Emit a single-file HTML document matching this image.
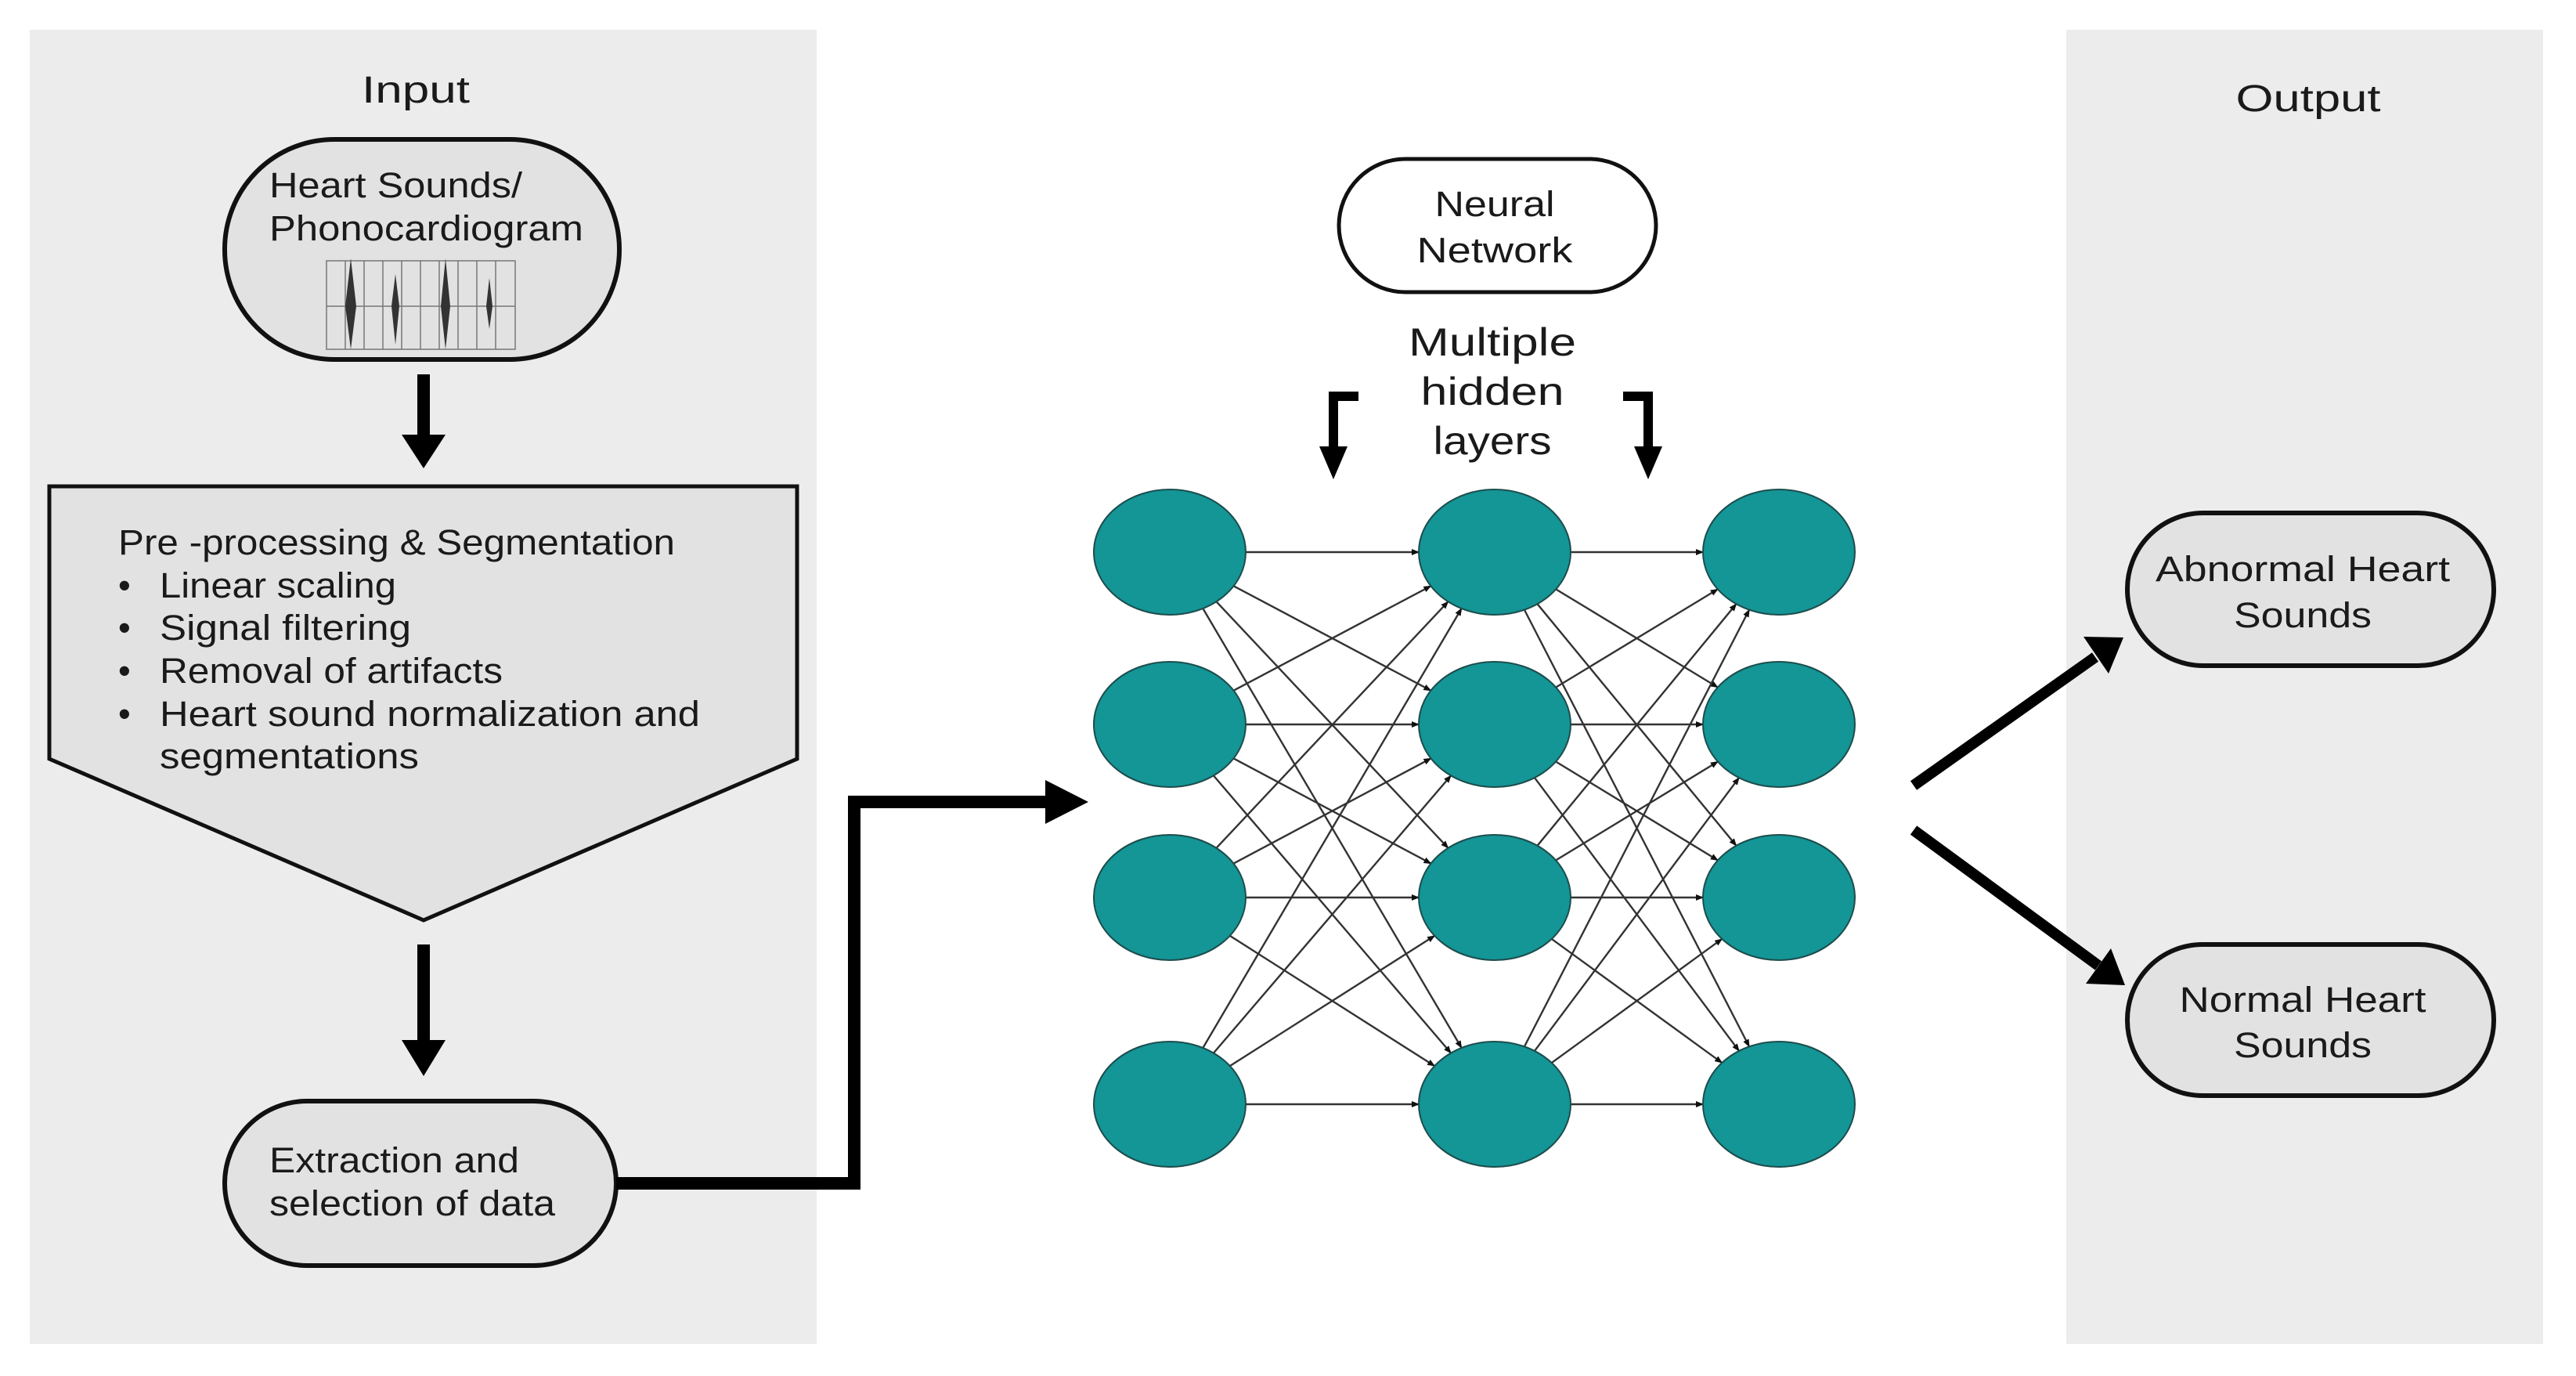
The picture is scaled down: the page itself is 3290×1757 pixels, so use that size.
<!DOCTYPE html>
<html><head><meta charset="utf-8"><style>
html,body{margin:0;padding:0;background:#fff}
svg{display:block}
text{font-family:"Liberation Sans",sans-serif;fill:#1a1a1a}
</style></head><body>
<svg width="3290" height="1757" viewBox="0 0 3290 1757" xmlns="http://www.w3.org/2000/svg">
<defs>
<marker id="a" markerWidth="10" markerHeight="8" refX="9" refY="4" orient="auto" markerUnits="userSpaceOnUse"><path d="M0,0 L10,4 L0,8 Z" fill="#111"/></marker>
</defs>
<rect x="38" y="38" width="1005" height="1678" fill="#ececec"/>
<rect x="2639" y="38" width="609" height="1678" fill="#ececec"/>

<text x="531" y="131" font-size="48" text-anchor="middle" textLength="138" lengthAdjust="spacingAndGlyphs">Input</text>
<rect x="287" y="178" width="504" height="281" rx="140" fill="#e2e2e2" stroke="#111" stroke-width="6"/>
<text x="344" y="252" font-size="45" textLength="323" lengthAdjust="spacingAndGlyphs">Heart Sounds/</text>
<text x="344" y="307" font-size="45" textLength="401" lengthAdjust="spacingAndGlyphs">Phonocardiogram</text>
<g stroke="#777" stroke-width="1.5" fill="none">
<rect x="417" y="333" width="241" height="113"/>
<line x1="417" y1="391" x2="658" y2="391"/>
<line x1="441" y1="333" x2="441" y2="446"/><line x1="465" y1="333" x2="465" y2="446"/><line x1="489" y1="333" x2="489" y2="446"/><line x1="513" y1="333" x2="513" y2="446"/><line x1="537" y1="333" x2="537" y2="446"/><line x1="561" y1="333" x2="561" y2="446"/><line x1="585" y1="333" x2="585" y2="446"/><line x1="609" y1="333" x2="609" y2="446"/><line x1="633" y1="333" x2="633" y2="446"/>
</g>
<g fill="#333">
<path d="M448,330 L455,391 L448,446 L441,391 Z"/>
<path d="M505,350 L510,391 L505,440 L500,391 Z"/>
<path d="M569,330 L575,391 L569,446 L563,391 Z"/>
<path d="M625,355 L629,391 L625,420 L621,391 Z"/>
</g>

<rect x="533" y="478" width="16" height="80" fill="#000"/>
<path d="M513,555 L569,555 L541,598 Z" fill="#000"/>

<path d="M63,621 L1018,621 L1018,969 L541,1175 L63,969 Z" fill="#e2e2e2" stroke="#111" stroke-width="5"/>
<g font-size="45">
<text x="151" y="708" textLength="711" lengthAdjust="spacingAndGlyphs">Pre -processing &amp; Segmentation</text>
<text x="151" y="763">•</text><text x="204" y="763" textLength="302" lengthAdjust="spacingAndGlyphs">Linear scaling</text>
<text x="151" y="817">•</text><text x="204" y="817" textLength="321" lengthAdjust="spacingAndGlyphs">Signal filtering</text>
<text x="151" y="872">•</text><text x="204" y="872" textLength="438" lengthAdjust="spacingAndGlyphs">Removal of artifacts</text>
<text x="151" y="927">•</text><text x="204" y="927" textLength="690" lengthAdjust="spacingAndGlyphs">Heart sound normalization and</text>
<text x="204" y="981" textLength="331" lengthAdjust="spacingAndGlyphs">segmentations</text>
</g>

<rect x="533" y="1206" width="16" height="125" fill="#000"/>
<path d="M513,1328 L569,1328 L541,1374 Z" fill="#000"/>

<rect x="287" y="1406" width="500" height="210" rx="105" fill="#e2e2e2" stroke="#111" stroke-width="6"/>
<text x="344" y="1497" font-size="45" textLength="319" lengthAdjust="spacingAndGlyphs">Extraction and</text>
<text x="344" y="1552" font-size="45" textLength="365" lengthAdjust="spacingAndGlyphs">selection of data</text>

<path d="M787,1511 L1091,1511 L1091,1024 L1340,1024" fill="none" stroke="#000" stroke-width="16"/>
<path d="M1335,996 L1390,1024 L1335,1052 Z" fill="#000"/>

<rect x="1710" y="203" width="405" height="170" rx="85" fill="#fff" stroke="#111" stroke-width="5"/>
<text x="1909" y="276" font-size="45" text-anchor="middle" textLength="153" lengthAdjust="spacingAndGlyphs">Neural</text>
<text x="1909" y="335" font-size="45" text-anchor="middle" textLength="199" lengthAdjust="spacingAndGlyphs">Network</text>
<text x="1906" y="454" font-size="50" text-anchor="middle" textLength="214" lengthAdjust="spacingAndGlyphs">Multiple</text>
<text x="1906" y="517" font-size="50" text-anchor="middle" textLength="183" lengthAdjust="spacingAndGlyphs">hidden</text>
<text x="1906" y="580" font-size="50" text-anchor="middle" textLength="151" lengthAdjust="spacingAndGlyphs">layers</text>
<path d="M1735,506 L1703,506 L1703,575" fill="none" stroke="#000" stroke-width="12"/>
<path d="M1685,570 L1721,570 L1703,612 Z" fill="#000"/>
<path d="M2073,506 L2105,506 L2105,575" fill="none" stroke="#000" stroke-width="12"/>
<path d="M2087,570 L2123,570 L2105,612 Z" fill="#000"/>

<g id="edges" stroke="#333" stroke-width="2.4" marker-end="url(#a)"></g>
<g id="nodes" fill="#149596" stroke="#1d4d4d" stroke-width="2"></g>

<text x="2948" y="142" font-size="48" text-anchor="middle" textLength="185" lengthAdjust="spacingAndGlyphs">Output</text>
<rect x="2717" y="655" width="468" height="195" rx="97" fill="#e2e2e2" stroke="#111" stroke-width="6"/>
<text x="2941" y="742" font-size="45" text-anchor="middle" textLength="376" lengthAdjust="spacingAndGlyphs">Abnormal Heart</text>
<text x="2941" y="801" font-size="45" text-anchor="middle" textLength="176" lengthAdjust="spacingAndGlyphs">Sounds</text>
<rect x="2717" y="1206" width="468" height="193" rx="96" fill="#e2e2e2" stroke="#111" stroke-width="6"/>
<text x="2941" y="1292" font-size="45" text-anchor="middle" textLength="315" lengthAdjust="spacingAndGlyphs">Normal Heart</text>
<text x="2941" y="1350" font-size="45" text-anchor="middle" textLength="176" lengthAdjust="spacingAndGlyphs">Sounds</text>

<line x1="2444" y1="1003" x2="2676" y2="839" stroke="#000" stroke-width="14"/>
<path d="M2661,813 L2712,814 L2693,860 Z" fill="#000"/>
<line x1="2444" y1="1060" x2="2680" y2="1233" stroke="#000" stroke-width="14"/>
<path d="M2664,1256 L2714,1258 L2696,1211 Z" fill="#000"/>

<script>
var cols=[1494,1909,2272],rows=[705,925,1146,1410],rx=97,ry=80;
var e=document.getElementById('edges'),n=document.getElementById('nodes'),ns='http://www.w3.org/2000/svg';
function bp(cx,cy,dx,dy){var t=1/Math.sqrt(dx*dx/(rx*rx)+dy*dy/(ry*ry));return [cx+dx*t,cy+dy*t];}
for(var c=0;c<2;c++)for(var i=0;i<4;i++)for(var j=0;j<4;j++){
var x1=cols[c],y1=rows[i],x2=cols[c+1],y2=rows[j],dx=x2-x1,dy=y2-y1;
var p=bp(x1,y1,dx,dy),q=bp(x2,y2,-dx,-dy);
var l=document.createElementNS(ns,'line');l.setAttribute('x1',p[0]);l.setAttribute('y1',p[1]);l.setAttribute('x2',q[0]);l.setAttribute('y2',q[1]);e.appendChild(l);}
for(var c=0;c<3;c++)for(var i=0;i<4;i++){var el=document.createElementNS(ns,'ellipse');el.setAttribute('cx',cols[c]);el.setAttribute('cy',rows[i]);el.setAttribute('rx',rx);el.setAttribute('ry',ry);n.appendChild(el);}
</script>
</svg>
</body></html>
